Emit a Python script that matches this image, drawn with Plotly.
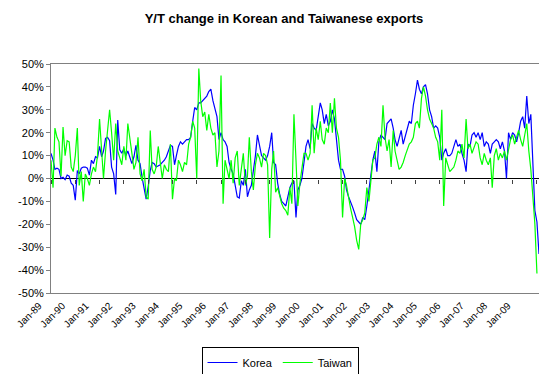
import pandas as pd
import plotly.graph_objects as go

# ---- data (Y/Y % change, monthly, Jan-1989 onward) ----
korea = [
    11, 8, 4, 4.5, 4, 0, 0.5, -0.5, 1.5, 1, -2, -3,            # 1989
    -9.5, 3.5, 2, 4.5, 5, 5, 4.5, 1.5, 8, 6.5, 9.5, 9,          # 1990
    14, 9.5, 12, 17.5, 18, 16.5, 5, 2, -7, 25.5, 12.5, 11,      # 1991
    13, 10, 12, 9.5, 6.5, 9.5, 14.5, 8, 6.5, 0.5, -5, -9,       # 1992
    -3.5, 3.5, 7, 6.5, 5, 5.5, 6, 7, 8, 9.5, 12.5, 14.5,        # 1993
    14, 6, 10, 14, 16, 15, 16, 17, 17, 18, 25, 31,              # 1994
    30, 33, 33, 34, 35, 36, 38, 39, 34, 30, 27, 17,             # 1995
    20, 17, 16, 14, 7, 4, 2, -3, -8, -8.5, -1, -3,              # 1996
    4, -8, -5, -3, 3, 10, 19, 15, 10, 9, 8, 10,                 # 1997
    14, 20, 7, 6, -2, -7, -10, -11, -12, -8, -4, -2,            # 1998
    -1, -17, -5, -3, 0, 7, 14, 17, 13, 24, 22, 21,              # 1999
    27, 33, 30, 24, 28, 23, 25, 30, 26, 17, 8, 4,               # 2000
    4, 1, -5, -8, -10, -12.5, -15, -18, -19, -20, -17, -18,     # 2001
    -12, -5, 2, 8, 12, 3, 16, 19, 18, 17, 24, 25,               # 2002
    26, 22, 17, 14, 18, 21, 15, 18, 21, 25, 24, 32,             # 2003
    37, 43, 39, 37, 40, 41, 37, 30, 27, 22, 23, 22,             # 2004
    18, 8, 11, 13, 10, 10, 11, 14, 17, 14, 15, 11,              # 2005
    8, 3, 15, 14, 19, 20, 18, 20, 17, 20, 14, 16,               # 2006
    15, 11, 15, 16, 17, 16, 13, 16, 12, 0, 20, 17,              # 2007
    20, 19, 16, 20, 25, 27, 22, 36, 24, 28, 8, -14,             # 2008
    -19, -33,                                                   # 2009
]

taiwan = [
    8, -4, 22, 18, 16, 1, 22.5, 10, 16.5, 16, 5, 3,             # 1989
    10, 22, -3, 3, -10, 2, 0, -3, 2, 5, 3, 10,                  # 1990
    26, 10, 0, 12, 22, 30, 20, 8, 24, 12, 9, 6,                 # 1991
    14, 8, 24, 16, 11, 4, 7, 18, 2, -1, 4, -8,                  # 1992
    -9, 21, 4, 2, 5, 14, 6, 0, 6, 4, 3, 15,                     # 1993
    -9, 0, -1, 8, 6, 3, 7, 6, 15, 18, 25, 22,                   # 1994
    0, 48, 34, 27, 29, 21, 28, 22, 19, 20, 5, 12,               # 1995
    45, -11, 8, 4, 0, 8, -2, 9, 12, -3, 5, 11,                  # 1996
    -3, 1, 18, 3, -5, 6, 11, 9, 5, 11, 10, 6,                   # 1997
    -26, 4, 12, -6, -4, -8, -11, -13, -14, -16, -4, -11,        # 1998
    28, 8, -12, -2, 4, 11, 11, 8, 11, 32, 11, 22,               # 1999
    17, 25, 17, 15, 22, 20, 33, 20, 35, 22, 18, 8,              # 2000
    -17, 0, -3, -9, -13, -17, -21, -27, -31, -20, -18, -15,     # 2001
    -4, -10, -1, 8, 9, 15, 18, 14, 32, 18, 12, 17,              # 2002
    5, 21, 12, 8, 4, 5, 7, 10, 13, 15, 16, 18,                  # 2003
    24, 25, 22, 35, 40, 36, 30, 26, 24, 22, 18, 16,             # 2004
    8, 30, -12, 9, 6, 3, 4, 5, 8, 12, 11, 15,                   # 2005
    9, 26, 13, 15, 11, 14, 16, 15, 9, 6, 11, 8,                 # 2006
    6, 9, -4, 10, 13, 8, 11, 9, 12, 8, 13, 17,                  # 2007
    19, 15, 18, 21, 17, 14, 19, 24, 12, 4, -8, -20,             # 2008
    -41.5,                                                      # 2009
]

months = pd.date_range("1989-01-01", periods=len(korea), freq="MS")
years = list(range(1989, 2010))
tick_dates = [pd.Timestamp(f"{y}-01-01") for y in years]
tick_text = [f"Jan-{y % 100:02d}" for y in years]
y_ticks = list(range(-50, 51, 10))
y_text = [f"{v}%" for v in y_ticks]

FONT = "Arial, Liberation Sans, sans-serif"
GRAY = "#808080"

# The page body has an 8px margin, so the figure is 8px smaller on each
# axis and all layout positions are offset accordingly.
W, H = 539, 366
L, R, T, B = 43, 8, 56, 81
PW, PH = W - L - R, H - T - B

x_range = [months[0], months[-1]]

# Category labels in the original are spaced slightly tighter than the
# tick marks; a label-only axis with its own range reproduces that.
SHIFT = 14                              # keep all labels inside the range
lab_first, lab_last = 31 + SHIFT, 500 + SHIFT   # label anchors (fig px)
span = tick_dates[-1] - tick_dates[0]
per_px = span / (lab_last - lab_first)
label_range = [tick_dates[0] + per_px * (L - lab_first),
               tick_dates[-1] + per_px * ((W - R) - lab_last)]

fig = go.Figure()
fig.add_trace(go.Scatter(x=months, y=korea, name="Korea",
                         mode="lines", line=dict(color="#0000FF", width=1.2)))
fig.add_trace(go.Scatter(x=months[:len(taiwan)], y=taiwan, name="Taiwan",
                         mode="lines", line=dict(color="#00FF00", width=1.2)))
# empty helper traces so the tick-mark axis and the label axis get drawn
for ax in ("x2", "x3"):
    fig.add_trace(go.Scatter(x=[], y=[], xaxis=ax, yaxis="y",
                             showlegend=False, hoverinfo="skip"))

fig.update_layout(
    width=W, height=H,
    margin=dict(l=L, r=R, t=T, b=B, autoexpand=False),
    paper_bgcolor="white", plot_bgcolor="white",
    font=dict(family=FONT, size=11, color="black"),
    title=dict(text="<b>Y/T change in Korean and Taiwanese exports</b>",
               font=dict(family=FONT, size=13, color="black"),
               x=276 / W, xanchor="center", xref="container",
               y=1 - 10 / H, yanchor="middle", yref="container"),
    showlegend=True,
    legend=dict(orientation="h", x=(272 - L) / PW, xanchor="center",
                y=-(339 - (H - B)) / PH, yanchor="top",
                bordercolor="black", borderwidth=1, bgcolor="white",
                font=dict(family=FONT, size=11, color="black"),
                itemwidth=30, tracegroupgap=0),
    xaxis=dict(
        type="date", range=x_range,
        showticklabels=False, ticks="", showgrid=False, zeroline=False,
        showline=True, linecolor=GRAY, linewidth=1, mirror=True,
    ),
    xaxis2=dict(
        type="date", range=x_range, overlaying="x",
        anchor="free", position=0.5,
        tickvals=tick_dates, showticklabels=False,
        ticks="outside", ticklen=4, tickcolor="#404040", tickwidth=1,
        showgrid=False, zeroline=False, showline=False,
    ),
    xaxis3=dict(
        type="date", range=label_range, overlaying="x", anchor="y",
        side="bottom",
        tickvals=tick_dates, ticktext=tick_text, tickangle=-45,
        tickfont=dict(family=FONT, size=10, color="black"),
        ticks="", showgrid=False, zeroline=False, showline=False,
        ticklabelshift=-SHIFT, ticklabelstandoff=4,
    ),
    yaxis=dict(
        range=[-50, 50], tickvals=y_ticks, ticktext=y_text,
        tickfont=dict(family=FONT, size=11, color="black"),
        ticks="outside", ticklen=4, tickcolor=GRAY,
        showgrid=False, zeroline=True, zerolinecolor="#000000", zerolinewidth=1,
        showline=True, linecolor=GRAY, linewidth=1, mirror=True,
    ),
)

fig.write_html("out.html")
